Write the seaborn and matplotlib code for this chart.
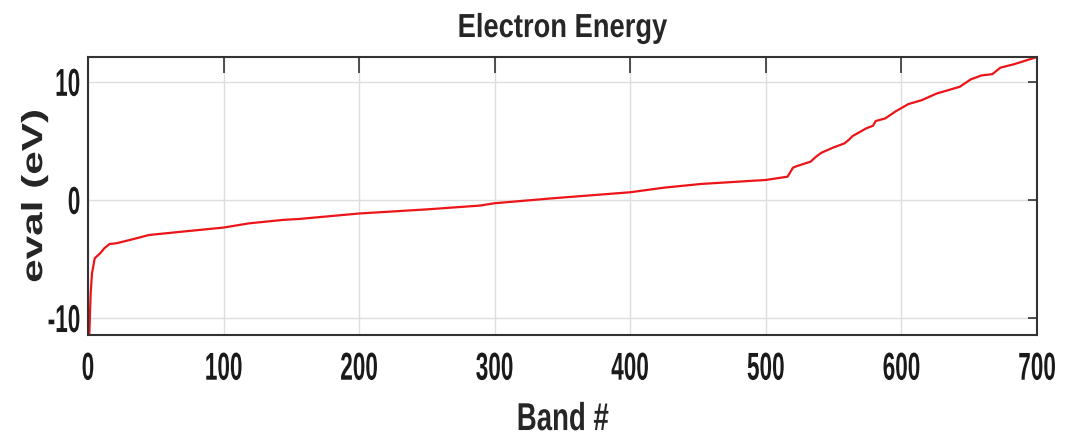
import matplotlib
matplotlib.use("Agg")
import matplotlib.pyplot as plt
import numpy as np
import pandas as pd
import seaborn as sns
from matplotlib.patheffects import AbstractPathEffect
from matplotlib.transforms import Affine2D

# band index and energy
band = [1, 2, 3, 5, 9, 12, 16, 21, 33, 45, 70, 100, 119, 144, 156, 200, 250,
        289, 300, 343, 400, 425, 452, 500, 516, 520, 523, 533, 537, 541, 550,
        558, 561, 564, 574, 579, 581, 588, 596, 605, 615, 626, 643, 651, 659,
        667, 673, 683, 700]
energy = [-11.44, -7.9, -6.2, -4.94, -4.52, -4.1, -3.73, -3.67, -3.33, -2.97,
          -2.68, -2.34, -1.98, -1.69, -1.61, -1.15, -0.8, -0.48, -0.28, 0.14,
          0.65, 1.04, 1.35, 1.69, 1.97, 2.73, 2.87, 3.24, 3.66, 4.0, 4.45,
          4.79, 5.07, 5.41, 6.06, 6.28, 6.68, 6.9, 7.52, 8.11, 8.45, 9.01,
          9.58, 10.2, 10.54, 10.65, 11.2, 11.49, 12.1]
xticks = [0, 100, 200, 300, 400, 500, 600, 700]
yticks = [-10, 0, 10]


class Squeeze(AbstractPathEffect):
    # scales the glyphs along the text direction (the reference text looks condensed)
    def __init__(self, sx, anchor=0.5):
        super().__init__()
        self.sx = sx
        self.anchor = anchor

    def draw_path(self, renderer, gc, tpath, affine, rgbFace=None):
        ext = tpath.get_extents()
        x0 = ext.x0 + self.anchor * ext.width
        t = Affine2D().translate(-x0, 0).scale(self.sx, 1).translate(x0, 0) + affine
        renderer.draw_path(gc, tpath, t, rgbFace)


sns.set_style("white")
plt.rcParams['font.family'] = ['Liberation Sans', 'DejaVu Sans']
plt.rcParams['axes.unicode_minus'] = False

df = pd.DataFrame({"band": band, "energy": energy})

fig = plt.figure(figsize=(10.7, 4.42), dpi=100)
ax = fig.add_axes([0.0822, 0.242, 0.887, 0.629])
sns.lineplot(data=df, x="band", y="energy", ax=ax, color="#ec1418", linewidth=1.6)

ax.set_xlim(0, 700)
ax.set_ylim(min(energy), max(energy))
ax.set_xticks(xticks)
ax.set_yticks(yticks)
ax.grid(True, color="#dedede", linewidth=1)
ax.tick_params(axis="x", direction="in", length=11.5, width=1.2, colors="#333333",
               top=True, labelsize=28, pad=12, labelcolor="#1a1a1a")
ax.tick_params(axis="y", direction="in", length=6.5, width=1.2, colors="#333333",
               right=True, labelsize=28, pad=5, labelcolor="#1a1a1a")
for lab in ax.get_xticklabels():
    lab.set_fontweight("bold")
    lab.set_path_effects([Squeeze(0.58, 0.5)])
for lab in ax.get_yticklabels():
    lab.set_fontweight("bold")
    lab.set_path_effects([Squeeze(0.58, 1.0)])
for s in ax.spines.values():
    s.set_color("#333333")
    s.set_linewidth(1.5)

t = ax.set_title("Electron Energy", fontsize=24, fontweight="bold", pad=14.4)
t.set_path_effects([Squeeze(0.82, 0.5)])
xl = ax.set_xlabel("Band #", fontsize=28, fontweight="bold")
xl.set_path_effects([Squeeze(0.71, 0.5)])
ax.xaxis.set_label_coords(0.5, -0.241)
yl = ax.set_ylabel("eval (eV)", fontsize=21, fontweight="bold")
yl.set_path_effects([Squeeze(1.45, 0.5)])
ax.yaxis.set_label_coords(-0.042, 0.5)

fig.savefig("out.png", dpi=100)
